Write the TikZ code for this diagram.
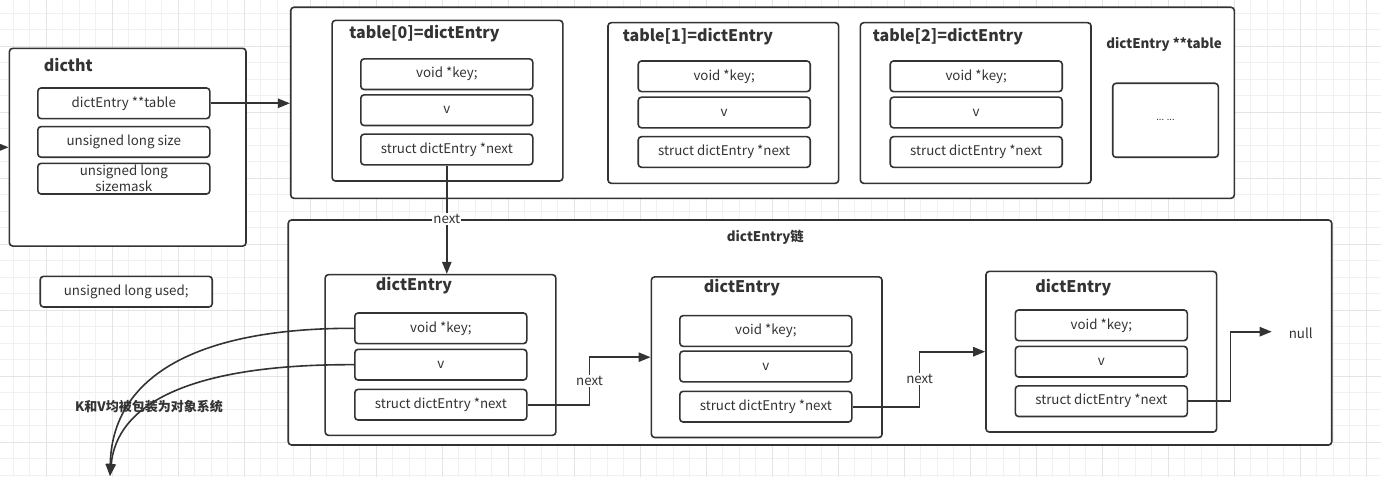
\documentclass[tikz,border=0pt]{standalone}
\usepackage{fontspec}
\setmainfont{Noto Sans CJK SC}
\usetikzlibrary{arrows.meta}
\definecolor{ink}{HTML}{333333}
\definecolor{gridminor}{HTML}{F1F1F1}
\definecolor{gridmajor}{HTML}{E4E4E4}
\tikzset{
    box/.style={rectangle,rounded corners=2.5pt,draw=ink,fill=white,line width=1.2pt},
    field/.style={box,minimum width=129pt,minimum height=23pt,inner sep=0pt,align=center,
        font=\fontsize{10}{12}\selectfont,text=ink},
    entry/.style={box,minimum width=173pt,minimum height=120.5pt},
    title/.style={font=\bfseries\fontsize{12}{14}\selectfont,text=ink},
    caption/.style={font=\bfseries\fontsize{10}{12}\selectfont,text=ink},
    lbl/.style={fill=white,inner sep=1pt,font=\fontsize{10}{12}\selectfont,text=ink},
    link/.style={draw=ink,line width=1.2pt,-{Triangle[length=9pt,width=7pt]}},
}
\begin{document}
\begin{tikzpicture}[x=0.75pt,y=-0.75pt]
    \useasboundingbox (0,0) rectangle (1381,477);
    \fill[white] (0,0) rectangle (1381,477);
    % background grid
    \foreach \i in {0,...,82}
        \draw[gridminor,line width=0.6pt] (13.3+16.5*\i,0) -- (13.3+16.5*\i,477);
    \foreach \i in {0,...,28}
        \draw[gridminor,line width=0.6pt] (0,13.3+16.5*\i) -- (1381,13.3+16.5*\i);
    \foreach \i in {2,6,...,82}
        \draw[gridmajor,line width=0.6pt] (13.3+16.5*\i,0) -- (13.3+16.5*\i,477);
    \foreach \i in {2,6,...,26}
        \draw[gridmajor,line width=0.6pt] (0,13.3+16.5*\i) -- (1381,13.3+16.5*\i);

    % dictht
    \node[box,minimum width=177.5pt,minimum height=148.3pt] (dictht) at (127.7,147.2) {};
    \node[title] (dicthtT) at (68.3,65) {dictht};
    \node[field] (ftable) at (123.8,103.3) {dictEntry **table};
    \node[field] (fsize) at (123.8,141.9) {unsigned long size};
    \node[field] (fmask) at (123.8,178.7) {unsigned long\\sizemask};
    \node[field] (fused) at (126.2,291.7) {unsigned long used;};
    \coordinate (in) at (0,147.3);

    % table array
    \node[box,minimum width=707.7pt,minimum height=143.3pt] (tabs) at (762.5,102.8) {};
    \node[entry] (t0) at (447.5,100.7) {};
    \node[title] (t0T) at (424.5,33.3) {table[0]=dictEntry};
    \node[field] (t0k) at (446.8,74.2) {void *key;};
    \node[field] (t0v) at (446.8,110.2) {v};
    \node[field] (t0n) at (446.8,149.5) {struct dictEntry *next};
    \node[entry] (t1) at (723.3,103) {};
    \node[title] (t1T) at (698,36.7) {table[1]=dictEntry};
    \node[field] (t1k) at (724.2,76.3) {void *key;};
    \node[field] (t1v) at (724.2,112.5) {v};
    \node[field] (t1n) at (724.2,152) {struct dictEntry *next};
    \node[entry] (t2) at (975.7,103) {};
    \node[title] (t2T) at (948,36.7) {table[2]=dictEntry};
    \node[field] (t2k) at (976.2,76.3) {void *key;};
    \node[field] (t2v) at (976.2,112.5) {v};
    \node[field] (t2n) at (976.2,152) {struct dictEntry *next};
    \node[caption] (tabsT) at (1164,44) {dictEntry **table};
    \node[box,minimum width=79.2pt,minimum height=55.5pt,font=\fontsize{7}{8}\selectfont,text=ink] (more) at (1165.5,120.3) {... ...};

    % chain
    \node[box,minimum width=782.6pt,minimum height=168.8pt] (chain) at (810,332.5) {};
    \node[caption] (chainT) at (765.3,237.3) {dictEntry链};
    \node[entry] (e1) at (440.5,355) {};
    \node[title] (e1T) at (414,286) {dictEntry};
    \node[field] (e1k) at (440.8,328.3) {void *key;};
    \node[field] (e1v) at (440.8,364.7) {v};
    \node[field] (e1n) at (440.8,404.7) {struct dictEntry *next};
    \node[entry] (e2) at (766.7,357.2) {};
    \node[title] (e2T) at (742,287.7) {dictEntry};
    \node[field] (e2k) at (765.8,331) {void *key;};
    \node[field] (e2v) at (765.8,366.5) {v};
    \node[field] (e2n) at (765.8,406.7) {struct dictEntry *next};
    \node[entry] (e3) at (1101.3,351.7) {};
    \node[title] (e3T) at (1073.3,287.3) {dictEntry};
    \node[field] (e3k) at (1101.3,325.3) {void *key;};
    \node[field] (e3v) at (1101.3,361.7) {v};
    \node[field] (e3n) at (1101.3,401.2) {struct dictEntry *next};
    \node[lbl,fill=none] (null) at (1300.7,333.3) {null};
    \coordinate (nullend) at (1271.7,331.7);
    \coordinate (kvend) at (110,476);

    % connectors
    \draw[link] (in) -- (in -| dictht.west);
    \draw[link] (ftable.east) -- (ftable.east -| tabs.west);
    \draw[link] (t0n.south) -- (t0n.south |- e1.north);
    \node[lbl] (next0) at (t0n.south |- chain.north) {next};
    \draw[link] (e1n.east) -- ++(62,0) |- (e2.west) node[lbl,pos=0.25] (next1) {next};
    \draw[link] (e2n.east) -- ++(67,0) |- (e3.west) node[lbl,pos=0.25] (next2) {next};
    \draw[link] (e3n.east) -- ++(42.3,0) |- (nullend);
    \draw[link] (e1k.west) .. controls (190,328) and (112,380) .. (kvend);
    \draw[link] (e1v.west) .. controls (210,364) and (118,395) .. (kvend);
    \node[font=\bfseries\fontsize{9.75}{12}\selectfont,text=ink] (kv) at (149,406.7) {K和V均被包装为对象系统};
\end{tikzpicture}
\end{document}
